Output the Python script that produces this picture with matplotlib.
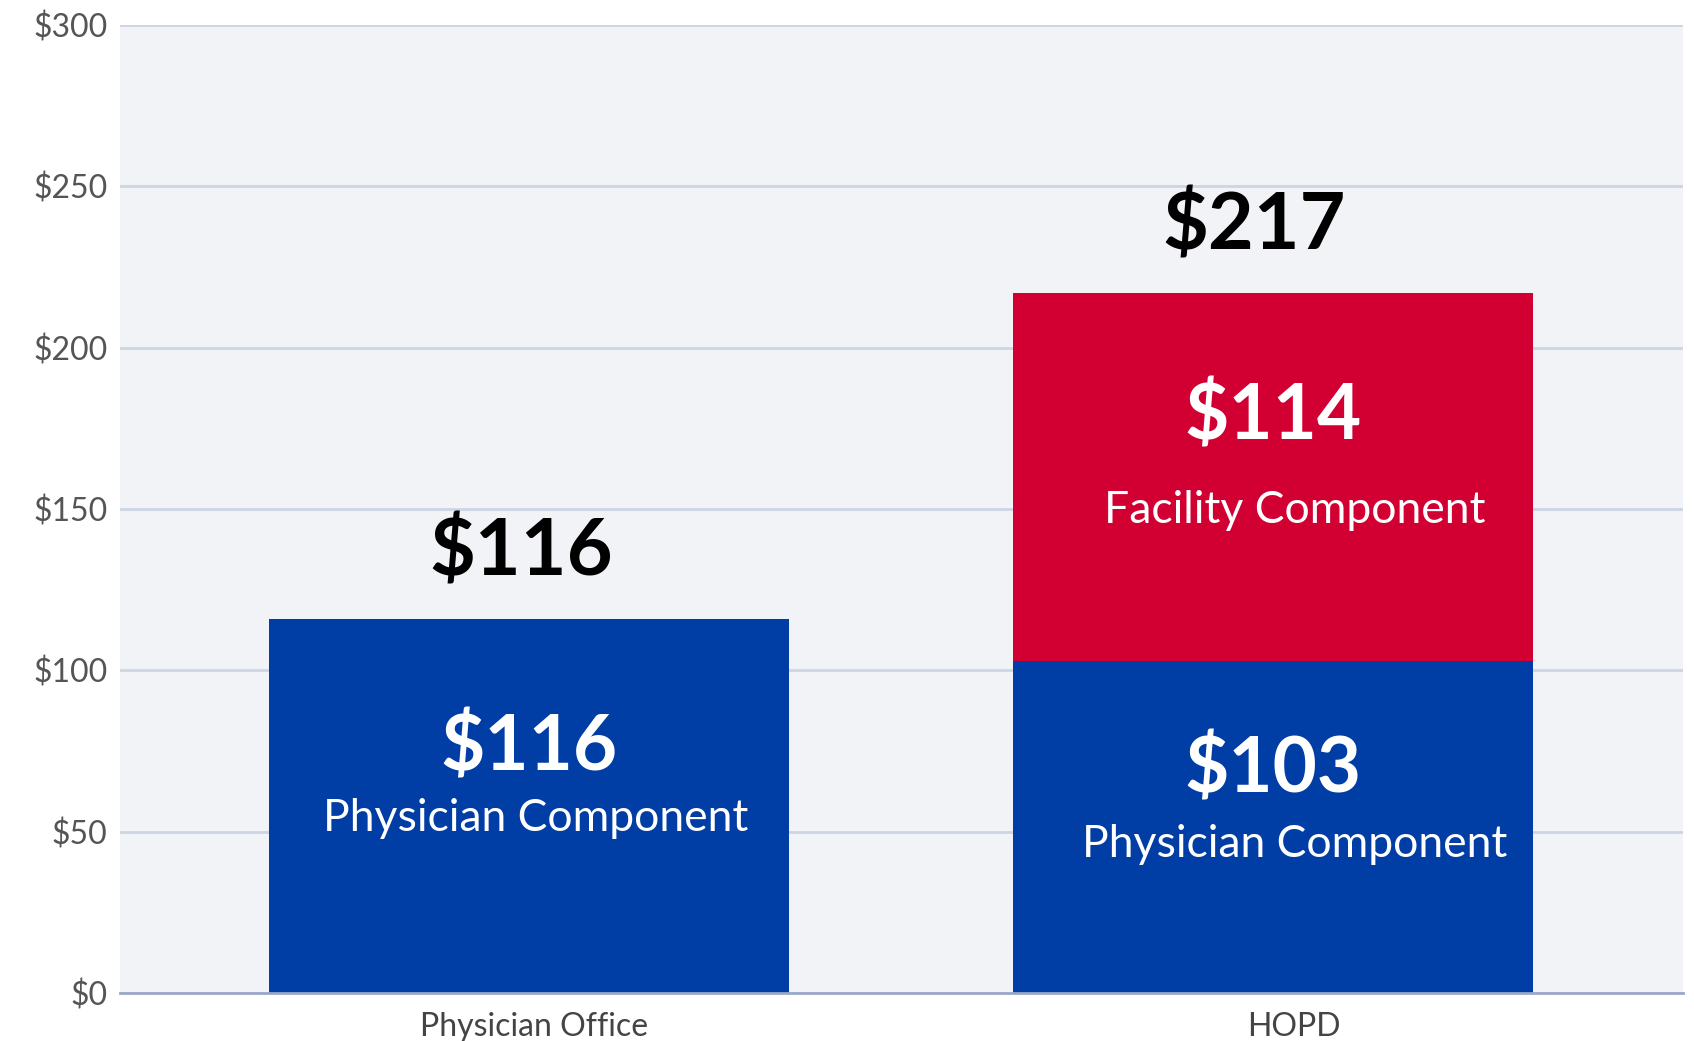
import matplotlib.pyplot as plt
import numpy as np

plt.rcParams['font.family'] = ['Lato', 'DejaVu Sans']

# data
settings = ["Physician Office", "HOPD"]
physician = [116, 103]
facility = [0, 114]
totals = [116, 217]
y_ticks = [0, 50, 100, 150, 200, 250, 300]

blue = "#003da5"
red = "#d20032"

fig = plt.figure(figsize=(16.94, 10.41), dpi=100)
ax = fig.add_axes([0.0708, 0.0461, 0.9227, 0.9299])
ax.set_facecolor("#f2f3f7")

x = np.arange(len(settings))
w = 0.7
ax.bar(x, physician, width=w, color=blue, zorder=3)
ax.bar(x, facility, width=w, bottom=physician, color=red, zorder=3)

big = dict(color="white", fontsize=55, fontweight="bold", ha="center", va="center", zorder=4)
small = dict(color="white", fontsize=32, ha="center", va="center", zorder=4)

# physician office bar
ax.text(x[0], physician[0] - 40, f"${physician[0]}", **big)
ax.text(x[0] + 0.009, physician[0] - 62, "Physician Component", **small)

# HOPD bar
ax.text(x[1], physician[1] - 34, f"${physician[1]}", **big)
ax.text(x[1] + 0.029, physician[1] - 57, "Physician Component", **small)
top2 = physician[1] + facility[1]
ax.text(x[1], top2 - 38.5, f"${facility[1]}", **big)
ax.text(x[1] + 0.029, top2 - 67.5, "Facility Component", **small)

# totals above bars
ax.text(x[0] - 0.01, totals[0] + 20.5, f"${totals[0]}", color="black", fontsize=57,
        fontweight="bold", ha="center", va="center", zorder=4)
ax.text(x[1] - 0.026, totals[1] + 20.3, f"${totals[1]}", color="black", fontsize=57,
        fontweight="bold", ha="center", va="center", zorder=4)

ax.set_xlim(-0.55, 1.551)
ax.set_ylim(0, 300)
ax.set_yticks(y_ticks)
ax.set_yticklabels([f"${v}" for v in y_ticks])
# category labels sit a bit right of the bar centres in the original
ax.set_xticks(x + np.array([0.007, 0.028]))
ax.set_xticklabels(settings)
ax.tick_params(axis="y", length=0, pad=9, labelsize=23, labelcolor="#555555")
ax.tick_params(axis="x", length=0, pad=14, labelsize=23, labelcolor="#444444")

ax.grid(axis="y", color="#cdd5e3", linewidth=2, zorder=1)
for s in ["top", "right", "left"]:
    ax.spines[s].set_visible(False)
ax.spines["bottom"].set_color("#9aa8c8")
ax.spines["bottom"].set_linewidth(2)
ax.spines["bottom"].set_zorder(5)

fig.savefig("out.png", dpi=100)
